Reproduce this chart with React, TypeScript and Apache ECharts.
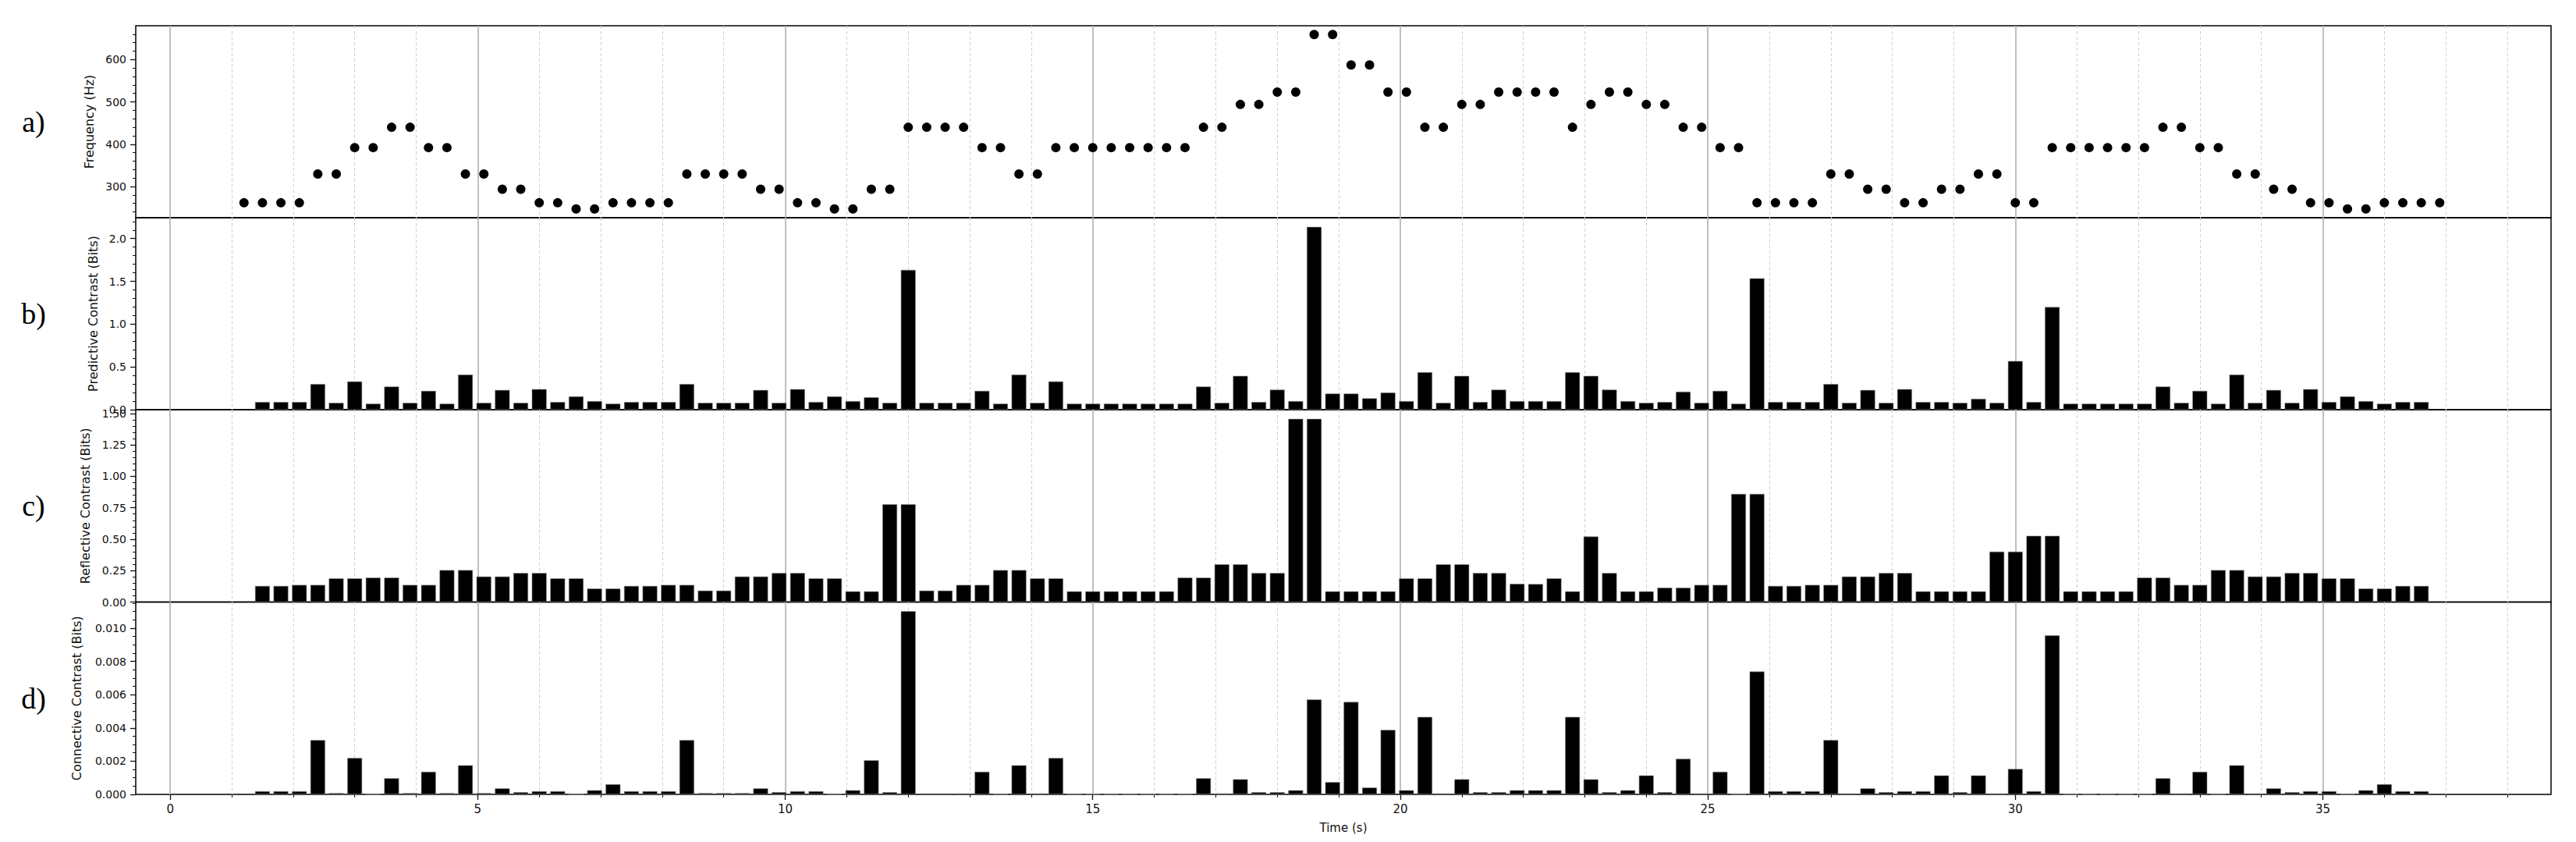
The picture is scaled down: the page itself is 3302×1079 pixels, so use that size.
import React, { useEffect, useRef } from "react";
import * as echarts from "echarts";

// Note onset times (s)
const times = [
  1.2, 1.5, 1.8, 2.1, 2.4, 2.7, 3.0, 3.3, 3.6, 3.9,
  4.2, 4.5, 4.8, 5.1, 5.4, 5.7, 6.0, 6.3, 6.6, 6.9,
  7.2, 7.5, 7.8, 8.1, 8.4, 8.7, 9.0, 9.3, 9.6, 9.9,
  10.2, 10.5, 10.8, 11.1, 11.4, 11.7, 12.0, 12.3, 12.6, 12.9,
  13.2, 13.5, 13.8, 14.1, 14.4, 14.7, 15.0, 15.3, 15.6, 15.9,
  16.2, 16.5, 16.8, 17.1, 17.4, 17.7, 18.0, 18.3, 18.6, 18.9,
  19.2, 19.5, 19.8, 20.1, 20.4, 20.7, 21.0, 21.3, 21.6, 21.9,
  22.2, 22.5, 22.8, 23.1, 23.4, 23.7, 24.0, 24.3, 24.6, 24.9,
  25.2, 25.5, 25.8, 26.1, 26.4, 26.7, 27.0, 27.3, 27.6, 27.9,
  28.2, 28.5, 28.8, 29.1, 29.4, 29.7, 30.0, 30.3, 30.6, 30.9,
  31.2, 31.5, 31.8, 32.1, 32.4, 32.7, 33.0, 33.3, 33.6, 33.9,
  34.2, 34.5, 34.8, 35.1, 35.4, 35.7, 36.0, 36.3, 36.6, 36.9,
];

// Pitch of each note (Hz)
const frequencyHz = [
  261.6, 261.6, 261.6, 261.6, 329.6, 329.6, 392.0, 392.0, 440.0, 440.0,
  392.0, 392.0, 329.6, 329.6, 293.7, 293.7, 261.6, 261.6, 246.9, 246.9,
  261.6, 261.6, 261.6, 261.6, 329.6, 329.6, 329.6, 329.6, 293.7, 293.7,
  261.6, 261.6, 246.9, 246.9, 293.7, 293.7, 440.0, 440.0, 440.0, 440.0,
  392.0, 392.0, 329.6, 329.6, 392.0, 392.0, 392.0, 392.0, 392.0, 392.0,
  392.0, 392.0, 440.0, 440.0, 493.9, 493.9, 523.3, 523.3, 659.3, 659.3,
  587.3, 587.3, 523.3, 523.3, 440.0, 440.0, 493.9, 493.9, 523.3, 523.3,
  523.3, 523.3, 440.0, 493.9, 523.3, 523.3, 493.9, 493.9, 440.0, 440.0,
  392.0, 392.0, 261.6, 261.6, 261.6, 261.6, 329.6, 329.6, 293.7, 293.7,
  261.6, 261.6, 293.7, 293.7, 329.6, 329.6, 261.6, 261.6, 392.0, 392.0,
  392.0, 392.0, 392.0, 392.0, 440.0, 440.0, 392.0, 392.0, 329.6, 329.6,
  293.7, 293.7, 261.6, 261.6, 246.9, 246.9, 261.6, 261.6, 261.6, 261.6,
];

// Contrast values for notes 2..119 (one bar per note after the first)
const predictive = [
  0.09, 0.09, 0.09, 0.30, 0.08, 0.33, 0.07, 0.27, 0.08, 0.22,
  0.07, 0.41, 0.08, 0.23, 0.08, 0.24, 0.09, 0.155, 0.10, 0.07,
  0.09, 0.09, 0.09, 0.30, 0.08, 0.08, 0.08, 0.23, 0.08, 0.24,
  0.09, 0.155, 0.10, 0.145, 0.08, 1.634, 0.08, 0.08, 0.08, 0.22,
  0.07, 0.41, 0.08, 0.33, 0.07, 0.07, 0.07, 0.07, 0.07, 0.07,
  0.07, 0.27, 0.08, 0.395, 0.09, 0.234, 0.10, 2.137, 0.188, 0.188,
  0.133, 0.20, 0.10, 0.438, 0.08, 0.395, 0.09, 0.234, 0.10, 0.10,
  0.10, 0.438, 0.395, 0.234, 0.10, 0.08, 0.09, 0.21, 0.08, 0.22,
  0.07, 1.536, 0.09, 0.09, 0.09, 0.30, 0.08, 0.23, 0.08, 0.24,
  0.09, 0.09, 0.08, 0.127, 0.08, 0.569, 0.09, 1.20, 0.07, 0.07,
  0.07, 0.07, 0.07, 0.27, 0.08, 0.22, 0.07, 0.41, 0.08, 0.23,
  0.08, 0.24, 0.09, 0.155, 0.10, 0.07, 0.09, 0.09,
];

const reflective = [
  0.128, 0.128, 0.136, 0.136, 0.188, 0.188, 0.194, 0.194, 0.136, 0.136,
  0.254, 0.254, 0.203, 0.203, 0.231, 0.231, 0.188, 0.188, 0.107, 0.107,
  0.128, 0.128, 0.136, 0.136, 0.091, 0.091, 0.203, 0.203, 0.231, 0.231,
  0.188, 0.188, 0.085, 0.085, 0.777, 0.777, 0.091, 0.091, 0.136, 0.136,
  0.254, 0.254, 0.188, 0.188, 0.085, 0.085, 0.085, 0.085, 0.085, 0.085,
  0.194, 0.194, 0.30, 0.30, 0.231, 0.231, 1.457, 1.457, 0.085, 0.085,
  0.085, 0.085, 0.188, 0.188, 0.30, 0.30, 0.231, 0.231, 0.145, 0.143,
  0.188, 0.085, 0.521, 0.231, 0.085, 0.085, 0.114, 0.114, 0.136, 0.136,
  0.86, 0.86, 0.128, 0.128, 0.136, 0.136, 0.203, 0.203, 0.231, 0.231,
  0.085, 0.085, 0.085, 0.085, 0.401, 0.401, 0.527, 0.527, 0.085, 0.085,
  0.085, 0.085, 0.194, 0.194, 0.136, 0.136, 0.254, 0.254, 0.203, 0.203,
  0.231, 0.231, 0.188, 0.188, 0.107, 0.107, 0.128, 0.128,
];

const connective = [
  0.00019, 0.00019, 0.00019, 0.00327, 0.00008, 0.00219, 0.0, 0.00097, 0.00008, 0.00136,
  0.00008, 0.00175, 0.00008, 0.00036, 0.00013, 0.00019, 0.00019, 0.0, 0.00025, 0.00061,
  0.00019, 0.00019, 0.00019, 0.00327, 0.00008, 0.00008, 0.00008, 0.00036, 0.00013, 0.00019,
  0.00019, 0.0, 0.00025, 0.00205, 0.00013, 0.01102, 0.00006, 0.00006, 0.00006, 0.00136,
  0.0, 0.00175, 0.00006, 0.00219, 0.0, 0.0, 0.0, 0.0, 0.0, 0.0,
  0.0, 0.00097, 0.00006, 0.00091, 0.00013, 0.00013, 0.00025, 0.00571, 0.00074, 0.00556,
  0.00041, 0.00388, 0.00025, 0.00466, 0.00006, 0.00091, 0.00013, 0.00013, 0.00025, 0.00025,
  0.00025, 0.00466, 0.00091, 0.00013, 0.00025, 0.00114, 0.00013, 0.00214, 0.00006, 0.00136,
  0.0, 0.00739, 0.00019, 0.00019, 0.00019, 0.00327, 0.00006, 0.00036, 0.00013, 0.00019,
  0.00019, 0.00114, 0.00013, 0.00114, 0.00006, 0.00153, 0.00019, 0.00956, 0.0, 0.0,
  0.0, 0.0, 0.0, 0.00097, 0.00006, 0.00136, 0.0, 0.00175, 0.00006, 0.00036,
  0.00013, 0.00019, 0.00019, 0.0, 0.00025, 0.00061, 0.00019, 0.00019,
];

// Tick positions
const timeMajorTicks = [0, 5, 10, 15, 20, 25, 30, 35];
const timeMinorTicks = [
  1, 2, 3, 4, 6, 7, 8, 9, 11, 12, 13, 14, 16, 17, 18, 19,
  21, 22, 23, 24, 26, 27, 28, 29, 31, 32, 33, 34, 36, 37, 38,
];
const freqMajorTicks = [300, 400, 500, 600];
const freqMinorTicks = [240, 260, 280, 320, 340, 360, 380, 420, 440, 460, 480, 520, 540, 560, 580, 620, 640, 660];
const predMajorTicks = [0, 0.5, 1.0, 1.5, 2.0];
const predMinorTicks = [0.1, 0.2, 0.3, 0.4, 0.6, 0.7, 0.8, 0.9, 1.1, 1.2, 1.3, 1.4, 1.6, 1.7, 1.8, 1.9, 2.1, 2.2];
const reflMajorTicks = [0, 0.25, 0.5, 0.75, 1.0, 1.25, 1.5];
const reflMinorTicks = [
  0.05, 0.1, 0.15, 0.2, 0.3, 0.35, 0.4, 0.45, 0.55, 0.6, 0.65, 0.7,
  0.8, 0.85, 0.9, 0.95, 1.05, 1.1, 1.15, 1.2, 1.3, 1.35, 1.4, 1.45,
];
const connMajorTicks = [0, 0.002, 0.004, 0.006, 0.008, 0.01];
const connMinorTicks = [
  0.0005, 0.001, 0.0015, 0.0025, 0.003, 0.0035, 0.0045, 0.005, 0.0055,
  0.0065, 0.007, 0.0075, 0.0085, 0.009, 0.0095, 0.0105, 0.011, 0.0115,
];

const panelLetters = ["a)", "b)", "c)", "d)"];
const yAxisNames = [
  "Frequency (Hz)",
  "Predictive Contrast (Bits)",
  "Reflective Contrast (Bits)",
  "Connective Contrast (Bits)",
];
const xAxisName = "Time (s)";

export default function App() {
  const ref = useRef<HTMLDivElement>(null);

  useEffect(() => {
    document.body.style.margin = "0";
    const chart = echarts.init(ref.current!, null, { renderer: "svg" });

    const LEFT = 174;
    const WIDTH = 3096;
    const grids = [
      { top: 33, height: 246 },
      { top: 279, height: 246 },
      { top: 525, height: 246.5 },
      { top: 771.5, height: 246.5 },
    ];
    const XMIN = -0.56;
    const XMAX = 38.71;
    const font = "DejaVu Sans";
    const ink = "#111";

    const panels = [
      { min: 226.28, max: 679.92, major: freqMajorTicks, minor: freqMinorTicks, gap: 52, fmt: (v: number) => String(Math.round(v)) },
      { min: 0, max: 2.244, major: predMajorTicks, minor: predMinorTicks, gap: 47, fmt: (v: number) => v.toFixed(1) },
      { min: 0, max: 1.53, major: reflMajorTicks, minor: reflMinorTicks, gap: 57, fmt: (v: number) => v.toFixed(2) },
      { min: 0, max: 0.01157, major: connMajorTicks, minor: connMinorTicks, gap: 68, fmt: (v: number) => v.toFixed(3) },
    ];

    const xAxes: any[] = [];
    grids.forEach((_, i) => {
      const bottom = i === 3;
      xAxes.push({
        type: "value",
        gridIndex: i,
        position: "bottom",
        min: XMIN,
        max: XMAX,
        axisLine: { show: false, onZero: false },
        axisTick: { show: bottom, customValues: timeMajorTicks, length: 7, lineStyle: { color: ink, width: 1.3 } },
        splitLine: { show: true, lineStyle: { color: "#b0b0b0", width: 1.6 } },
        axisLabel: {
          show: bottom,
          customValues: timeMajorTicks,
          fontFamily: font,
          fontSize: 15,
          color: ink,
          margin: 11,
          formatter: (v: number) => String(Math.round(v)),
        },
        name: bottom ? xAxisName : "",
        nameLocation: "middle",
        nameGap: 35,
        nameTextStyle: { fontFamily: font, fontSize: 15, color: ink },
        z: 2,
      });
      xAxes.push({
        type: "value",
        gridIndex: i,
        position: "bottom",
        min: XMIN,
        max: XMAX,
        axisLine: { show: false, onZero: false },
        axisTick: { show: bottom, customValues: timeMinorTicks, length: 4, lineStyle: { color: ink, width: 1 } },
        splitLine: { show: true, lineStyle: { color: "#cfcfcf", width: 1, type: [4, 3] } },
        axisLabel: { show: false },
        z: 1,
      });
    });

    const yAxes: any[] = [];
    panels.forEach((p, i) => {
      yAxes.push({
        type: "value",
        gridIndex: i,
        position: "left",
        min: p.min,
        max: p.max,
        name: yAxisNames[i],
        nameLocation: "middle",
        nameGap: p.gap,
        nameTextStyle: { fontFamily: font, fontSize: 16, color: ink },
        axisLine: { show: false, onZero: false },
        axisTick: { show: true, customValues: p.major, length: 7, lineStyle: { color: ink, width: 1.3 } },
        splitLine: { show: false },
        axisLabel: {
          customValues: p.major,
          fontFamily: font,
          fontSize: 14,
          color: ink,
          margin: 12,
          formatter: p.fmt,
        },
      });
      yAxes.push({
        type: "value",
        gridIndex: i,
        position: "left",
        min: p.min,
        max: p.max,
        axisLine: { show: false, onZero: false },
        axisTick: { show: true, customValues: p.minor, length: 4, lineStyle: { color: ink, width: 1 } },
        splitLine: { show: false },
        axisLabel: { show: false },
      });
    });

    const barSeries = (values: number[], panel: number) => ({
      type: "bar",
      xAxisIndex: panel * 2,
      yAxisIndex: panel * 2,
      barWidth: 19,
      itemStyle: { color: "#000", borderColor: "#888", borderWidth: 0.6 },
      data: values.map((v, i) => [times[i + 1], v]),
    });

    chart.setOption({
      animation: false,
      backgroundColor: "#fff",
      grid: grids.map((g) => ({
        left: LEFT,
        width: WIDTH,
        top: g.top,
        height: g.height,
        show: true,
        borderColor: "#000",
        borderWidth: 1.5,
        backgroundColor: "transparent",
      })),
      xAxis: xAxes,
      yAxis: yAxes,
      series: [
        {
          type: "scatter",
          xAxisIndex: 0,
          yAxisIndex: 0,
          symbol: "circle",
          symbolSize: 12,
          itemStyle: { color: "#000", opacity: 1 },
          data: times.map((t, i) => [t, frequencyHz[i]]),
        },
        barSeries(predictive, 1),
        barSeries(reflective, 2),
        barSeries(connective, 3),
      ],
      graphic: panelLetters.map((t, i) => ({
        type: "text",
        x: 43,
        y: grids[i].top + grids[i].height / 2,
        style: {
          text: t,
          fontFamily: "Liberation Serif",
          fontSize: 38,
          fill: "#000",
          align: "center",
          verticalAlign: "middle",
        },
      })),
    });

    return () => chart.dispose();
  }, []);

  return <div ref={ref} style={{ width: 3302, height: 1079 }} />;
}
